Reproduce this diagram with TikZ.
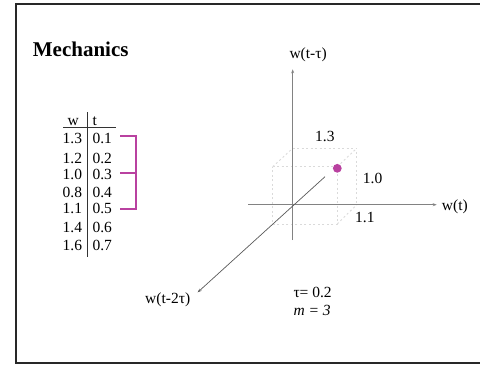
\documentclass[tikz,border=0pt]{standalone}
\usepackage{fontspec}
\setmainfont{Liberation Serif}
\usetikzlibrary{arrows.meta}
\definecolor{frameC}{RGB}{40,40,40}
\definecolor{magC}{RGB}{185,65,160}
\definecolor{axisC}{RGB}{130,130,130}
\definecolor{cubeC}{RGB}{218,218,218}
\tikzset{
  lbl/.style={inner sep=0pt, anchor=base west, font=\fontsize{15.5}{16}\selectfont},
  lble/.style={inner sep=0pt, anchor=base east, font=\fontsize{15.5}{16}\selectfont},
  axisline/.style={draw=axisC, line width=0.9pt, -{Stealth[length=4pt,width=3pt]}},
  diagline/.style={draw=black!65, line width=0.7pt},
  cubeline/.style={draw=cubeC, line width=0.9pt, dash pattern=on 2pt off 2.5pt},
  brk/.style={draw=magC, line width=1.6pt},
}
\begin{document}
\begin{tikzpicture}[x=1pt,y=-1pt]
\useasboundingbox (0,0) rectangle (480,365);
\begin{scope}
\clip (0,0) rectangle (480,365);
\draw[frameC, line width=2pt] (15.7,4.3) rectangle (500,363.3);
\end{scope}
% title
\node[inner sep=0pt, anchor=base west, font=\fontsize{21}{22}\selectfont\bfseries] (title) at (32.7,56.7) {Mechanics};
% table
\node[lbl, anchor=base] (hw) at (73.3,125) {w};
\node[lbl] (ht) at (92.3,125) {t};
\coordinate (hl1) at (63.3,127.7);
\coordinate (hl2) at (115.7,127.7);
\coordinate (vl1) at (87.7,112.3);
\coordinate (vl2) at (87.7,256.7);
\draw[black!80, line width=0.8pt] (hl1) -- (hl2);
\draw[black!80, line width=0.8pt] (vl1) -- (vl2);
\node[lble] (w1) at (82.3,143.3) {1.3}; \node[lbl] (t1) at (92.3,143.3) {0.1};
\node[lble] (w2) at (82.3,163.3) {1.2}; \node[lbl] (t2) at (92.3,163.3) {0.2};
\node[lble] (w3) at (82.3,179.3) {1.0}; \node[lbl] (t3) at (92.3,179.3) {0.3};
\node[lble] (w4) at (82.3,197.3) {0.8}; \node[lbl] (t4) at (92.3,197.3) {0.4};
\node[lble] (w5) at (82.3,213.3) {1.1}; \node[lbl] (t5) at (92.3,213.3) {0.5};
\node[lble] (w6) at (82.3,232.3) {1.4}; \node[lbl] (t6) at (92.3,232.3) {0.6};
\node[lble] (w7) at (82.3,250.7) {1.6}; \node[lbl] (t7) at (92.3,250.7) {0.7};
% bracket
\coordinate (b1) at (120,136); \coordinate (b1r) at (136,136);
\coordinate (b2) at (120,172.7); \coordinate (b2r) at (136,172.7);
\coordinate (b3) at (120,208.7); \coordinate (b3r) at (136,208.7);
\draw[brk] (b1) -- (b1r) -- (b3r) -- (b3);
\draw[brk] (b2) -- (b2r);
% cube (dotted)
\coordinate (O) at (292.7,204.7);
\coordinate (BT) at (292.7,148.3);
\coordinate (BTR) at (356.7,148.3);
\coordinate (BBR) at (356.7,204.7);
\coordinate (FTL) at (272.7,166.7);
\coordinate (FTR) at (337.3,166.7);
\coordinate (FBL) at (272.7,224);
\coordinate (FBR) at (337.3,224);
\draw[cubeline] (BT) -- (BTR) -- (BBR);
\draw[cubeline] (FTL) -- (FTR) -- (FBR) -- (FBL) -- cycle;
\draw[cubeline] (FTL) -- (BT);
\draw[cubeline] (FTR) -- (BTR);
\draw[cubeline] (FBR) -- (BBR);
% axes
\coordinate (vA) at (292.7,240);
\coordinate (vB) at (292.7,69.3);
\coordinate (hA) at (248.3,204.7);
\coordinate (hB) at (436.7,204.7);
\coordinate (dA) at (325,176.7);
\coordinate (dB) at (197.7,292.3);
\draw[axisline] (vA) -- (vB);
\draw[axisline] (hA) -- (hB);
\draw[diagline, -{Stealth[length=4pt,width=3pt]}] (dA) -- (dB);
% point
\node[fill=magC, circle, inner sep=0pt, minimum size=8.8pt] (pt) at (337.3,168.3) {};
% labels
\node[lbl] (ly) at (289.3,58.3) {w(t-τ)};
\node[lbl] (lx) at (441.7,210.5) {w(t)};
\node[lbl] (lz) at (145,303) {w(t-2τ)};
\node[lbl] (n13) at (315,141.7) {1.3};
\node[lbl] (n10) at (362.7,183.3) {1.0};
\node[lbl] (n11) at (355,222) {1.1};
\node[lbl] (tau) at (293.3,297.7) {τ= 0.2};
\node[lbl] (mm) at (293.3,315) {\textit{m = 3}};
\end{tikzpicture}
\end{document}
